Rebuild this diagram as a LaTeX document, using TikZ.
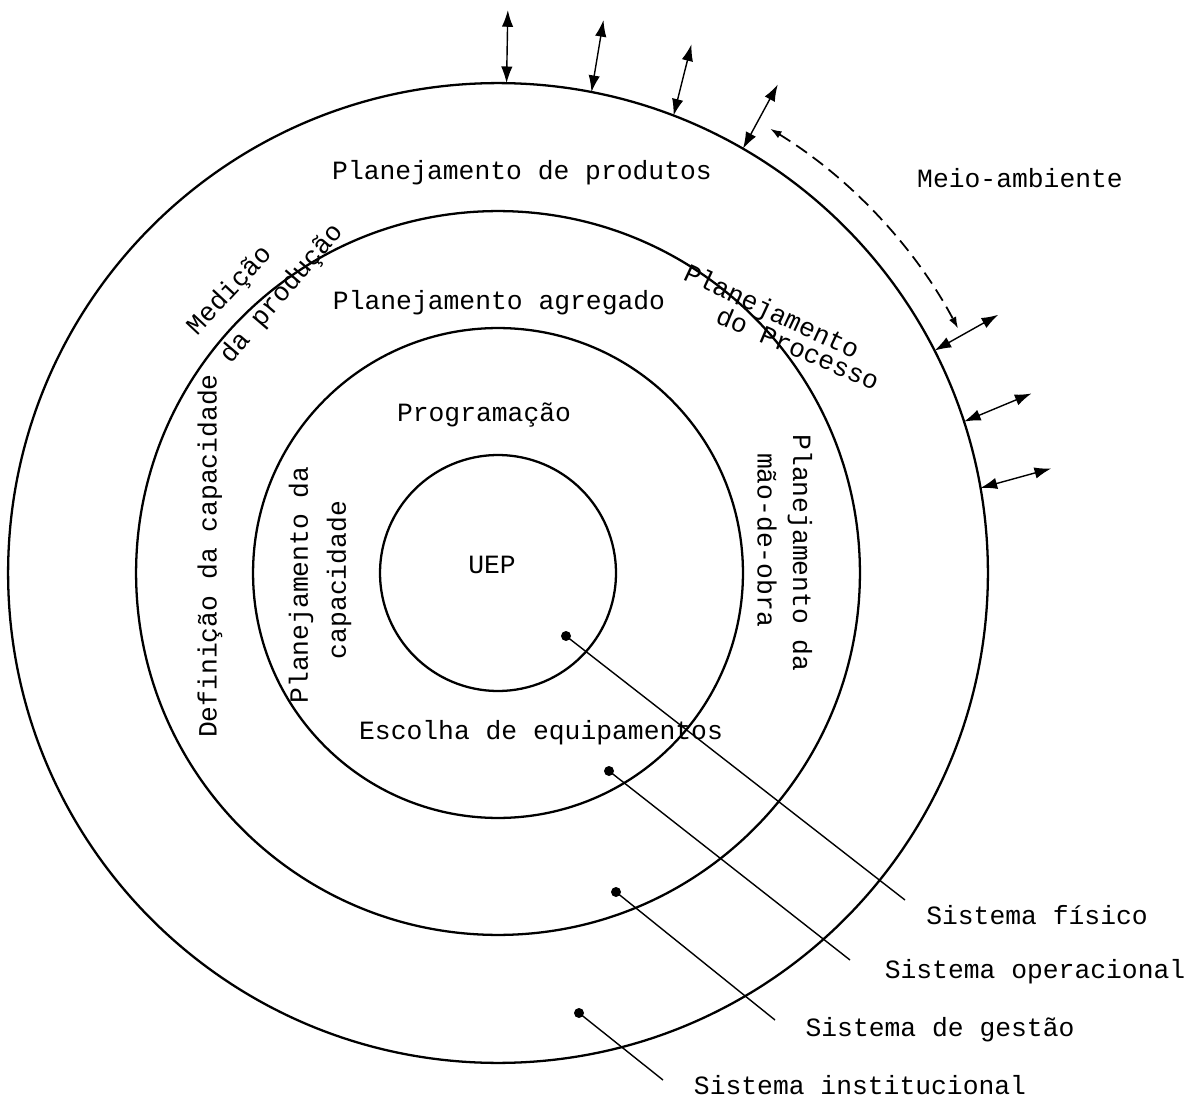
\documentclass[tikz,border=0pt]{standalone}
\usepackage{fontspec}
\setmainfont{Liberation Mono}
\usetikzlibrary{arrows.meta,calc}

\begin{document}
\begin{tikzpicture}[x=0.02cm,y=0.02cm,
  ring/.style={circle,draw,line width=1.3pt,inner sep=0pt,outer sep=0pt},
  txt/.style={font=\fontsize{15}{18}\selectfont,inner sep=0pt},
  io/.style={line width=0.8pt,{Latex[length=9.5pt,width=6.5pt]}-{Latex[length=9.5pt,width=6.5pt]}},
  flow/.style={line width=1pt,dash pattern=on 7.5pt off 4pt,
    {Latex[length=6.5pt,width=4.5pt]}-{Latex[length=6.5pt,width=4.5pt]}},
  leader/.style={line width=0.8pt},
  dot/.style={circle,fill,inner sep=0pt,minimum size=0.2cm},
]
\useasboundingbox (0,0) rectangle (1192,1100);
\coordinate (C) at (498,527);

% the four nested systems
\node[ring,minimum size=19.6cm]  (sinst) at (C) {};
\node[ring,minimum size=14.48cm] (sgest) at (C) {};
\node[ring,minimum size=9.8cm]   (soper) at (C) {};
\node[ring,minimum size=4.72cm]  (sfis)  at (C) {};

% exchanges with the environment
\foreach \a [count=\i] in {89,79.2,69.9,60.2,27.3,18.6,10.7}{
  \path (C) ++(\a:563) coordinate (ext\i);
  \draw[io] (sinst.\a) -- (ext\i);
}
\path (C) ++(58.5:521) coordinate (da);
\path (C) ++(28:521) coordinate (db);
\draw[flow] (da) arc[start angle=58.5,end angle=28,radius=521];

% labels inside the rings
\node[txt] (meio)  at (1020,922) {Meio-ambiente};
\node[txt] (pprod) at (522,927) {Planejamento de produtos};
\node[txt] (pagr)  at (499,797) {Planejamento agregado};
\node[txt] (prog)  at (484,685) {Programação};
\node[txt] (uep)   at (492,535) {UEP};
\node[txt] (esc)   at (541,367) {Escolha de equipamentos};

\node[txt,rotate=90]   (def)  at (210,544) {Definição da capacidade};
\node[txt,rotate=49.5] (dapr) at (282,806) {da produção};
\node[txt,rotate=47]   (med)  at (230,809) {Medição};
\node[txt,rotate=-25]  (pl1)  at (771,787) {Planejamento};
\node[txt,rotate=-23]  (pl2)  at (798,752) {do Processo};
\node[txt,rotate=-90]  (pmo1) at (800,547) {Planejamento da};
\node[txt,rotate=-90]  (pmo2) at (767,560) {mão-de-obra};
\node[txt,rotate=90]   (pc1)  at (301,515) {Planejamento da};
\node[txt,rotate=90]   (pc2)  at (339,520) {capacidade};

% system names with leader lines
\node[txt] (nfis)  at (1037,185) {Sistema físico};
\node[txt] (noper) at (1035,128) {Sistema operacional};
\node[txt] (ngest) at (940,70)   {Sistema de gestão};
\node[txt] (ninst) at (860,15)   {Sistema institucional};

\node[dot] (d1) at (566,464) {};
\node[dot] (d2) at (609,329) {};
\node[dot] (d3) at (616,208) {};
\node[dot] (d4) at (579,87)  {};
\coordinate (e1) at (905,200);
\coordinate (e2) at (850,140);
\coordinate (e3) at (775,80);
\coordinate (e4) at (663,20);
\draw[leader] (d1.center) -- (e1);
\draw[leader] (d2.center) -- (e2);
\draw[leader] (d3.center) -- (e3);
\draw[leader] (d4.center) -- (e4);
\end{tikzpicture}
\end{document}
